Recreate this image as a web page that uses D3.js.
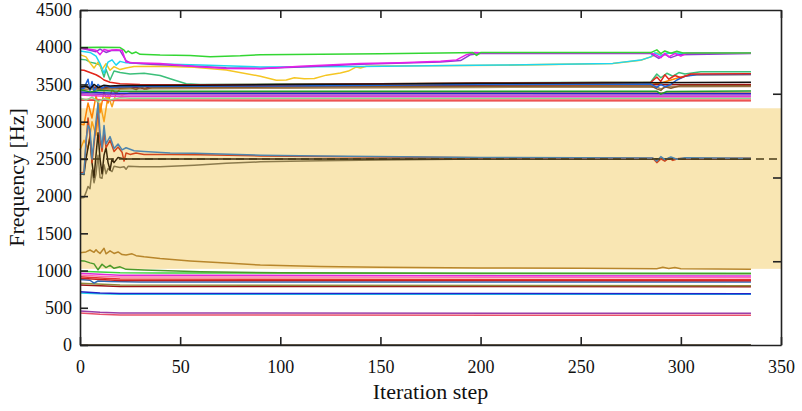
<!DOCTYPE html>
<html>
<head>
<meta charset="utf-8">
<script src="https://cdn.jsdelivr.net/npm/d3@7"></script>
<style>
  html, body { margin: 0; padding: 0; background: #fff; }
  #chart { width: 802px; height: 411px; }
  text { font-family: "Liberation Serif", "Times New Roman", serif; fill: #111; }
</style>
</head>
<body>
<div id="chart"></div>
<script>
/* Frequency tracks over optimisation iterations. Points are [iteration, Hz]. */

var xTicks = [0, 50, 100, 150, 200, 250, 300, 350];
var yTicks = [0, 500, 1000, 1500, 2000, 2500, 3000, 3500, 4000, 4500];
var rightTicks = [1125, 2250, 3375];
var bandRange = [1023, 3180];
var targetHz = 2500;

/* upper group */
var upGreen = [[0,3995],[10,3998],[20,3995],[22,3960],[23,3925],[24,3950],[26,3915],[28,3935],[30,3905],[40,3895],[55,3890],[65,3872],[80,3885],[90,3900],[120,3905],[150,3912],[190,3925],[196,3930],[198,3890],[200,3928],[285,3928],[288,3965],[290,3915],[292,3950],[295,3920],[298,3945],[301,3922],[335,3922]];
var upMagenta = [[0,3985],[4,3975],[8,3960],[10,3900],[12,3970],[14,3955],[18,3965],[21,3960],[23,3800],[26,3790],[40,3780],[57,3740],[73,3715],[90,3712],[110,3745],[140,3780],[160,3792],[180,3810],[188,3830],[193,3900],[197,3930],[200,3925],[285,3925],[288,3890],[290,3860],[292,3920],[294,3870],[297,3915],[300,3880],[303,3920],[335,3920]];
var upPurple = [[0,3990],[5,3960],[8,3940],[10,3975],[13,3930],[16,3960],[20,3955],[23,3820],[25,3790],[35,3770],[57,3745],[73,3725],[90,3715],[110,3735],[140,3770],[180,3800],[190,3820],[195,3900],[200,3915],[285,3915],[289,3850],[292,3905],[295,3860],[299,3900],[335,3915]];
var upCyan = [[0,3950],[5,3930],[8,3880],[10,3780],[12,3650],[14,3800],[16,3830],[18,3760],[20,3810],[23,3790],[30,3780],[45,3770],[60,3760],[90,3735],[140,3740],[210,3760],[266,3783],[280,3827],[285,3870],[287,3925],[290,3890],[293,3920],[335,3920]];
var upYellow = [[0,3900],[3,3870],[5,3790],[7,3720],[9,3800],[11,3700],[13,3780],[15,3690],[17,3740],[20,3700],[23,3720],[27,3740],[40,3745],[57,3730],[73,3695],[90,3610],[98,3555],[103,3560],[107,3590],[112,3575],[117,3580],[123,3625],[130,3655],[134,3680],[138,3735],[140,3722],[143,3745],[150,3748],[210,3758],[266,3781],[280,3824],[286,3880],[288,3925],[291,3895],[294,3920],[335,3918]];
var upTeal = [[0,3840],[3,3830],[5,3800],[8,3780],[10,3760],[12,3600],[13,3700],[15,3560],[17,3680],[20,3660],[25,3640],[32,3650],[40,3620],[47,3560],[53,3510],[60,3500],[100,3505],[150,3510],[200,3520],[285,3532],[288,3640],[290,3590],[293,3650],[296,3610],[299,3660],[302,3640],[310,3670],[335,3672]];
var upRed = [[0,3695],[2,3690],[5,3660],[8,3630],[10,3600],[12,3560],[15,3530],[20,3510],[30,3500],[60,3495],[100,3500],[150,3510],[200,3518],[285,3528],[288,3600],[290,3540],[292,3630],[294,3570],[297,3620],[300,3590],[305,3640],[335,3645]];
var upOrange = [[0,2970],[2,2960],[4,3250],[6,3050],[8,3350],[10,3120],[12,3400],[14,3250],[16,3430],[18,3380],[20,3440],[25,3450],[50,3460],[100,3470],[150,3480],[200,3490],[285,3500],[290,3520],[295,3560],[300,3600],[306,3630],[335,3635]];
var upOrange2 = [[0,2620],[2,2750],[4,2640],[6,3000],[8,2820],[10,3250],[12,3000],[14,3350],[16,3200],[18,3380],[21,3360],[25,3385],[335,3385]];
var upBlue = [[0,3440],[2,3450],[4,3570],[5,3420],[6,3540],[7,3400],[9,3500],[11,3450],[13,3480],[16,3460],[20,3470],[50,3475],[100,3480],[150,3490],[200,3500],[285,3505],[288,3460],[290,3500],[292,3470],[295,3500],[298,3560],[302,3610],[308,3630],[335,3632]];
var upBlack = [[0,3470],[3,3480],[5,3440],[7,3500],[9,3460],[12,3490],[15,3480],[20,3485],[60,3490],[100,3500],[150,3505],[200,3515],[250,3520],[335,3528]];
var upBrown = [[0,3450],[5,3460],[10,3440],[15,3455],[20,3450],[25,3460],[28,3430],[30,3465],[33,3440],[36,3460],[60,3460],[100,3465],[150,3470],[200,3475],[285,3480],[288,3440],[290,3420],[292,3470],[295,3450],[300,3485],[335,3483]];
var upDarkRed = [[0,3460],[5,3470],[10,3455],[20,3470],[30,3460],[32,3440],[35,3470],[60,3475],[100,3480],[200,3490],[335,3500]];
var upKhaki = [[0,3430],[20,3440],[100,3450],[200,3460],[288,3465],[290,3440],[293,3470],[335,3472]];
var upDkGreen = [[0,3430],[5,3400],[10,3420],[20,3410],[288,3410],[290,3370],[293,3405],[335,3411]];
var upNavy = [[0,3400],[10,3390],[20,3382],[335,3380]];
var upViolet = [[0,3375],[20,3360],[335,3357]];
var upPink = [[0,3357],[10,3345],[20,3337],[335,3335]];
var upLime = [[0,3320],[3,3290],[6,3330],[9,3270],[12,3310],[15,3290],[20,3320],[25,3313],[335,3313]];
var upCoral = [[0,3300],[20,3292],[335,3290]];
var upScarlet = [[0,3290],[20,3283],[335,3281]];

/* inside the band */
var bandSteel = [[0,2300],[2,2300],[3,2750],[4,2950],[5,2900],[6,2500],[7,2750],[8,3000],[9,3250],[10,2850],[11,2650],[12,2950],[13,2700],[15,2800],[17,2640],[19,2700],[21,2620],[23,2650],[27,2610],[32,2600],[45,2580],[57,2575],[90,2550],[120,2540],[160,2530],[200,2520],[250,2515],[286,2512],[288,2470],[290,2530],[292,2490],[295,2525],[298,2495],[302,2515],[335,2510]];
var bandRed = [[0,2310],[2,2320],[3,2700],[4,3050],[5,2800],[6,2450],[8,2950],[9,3150],[10,2750],[11,2600],[12,2850],[13,2650],[15,2750],[17,2600],[19,2660],[21,2590],[22,2470],[23,2580],[25,2560],[28,2580],[32,2560],[45,2560],[60,2555],[90,2540],[150,2525],[200,2515],[286,2510],[288,2450],[290,2500],[292,2470],[294,2510],[296,2480],[299,2505],[335,2508]];
var bandDark = [[0,2300],[2,2290],[3,2500],[5,2800],[6,2450],[7,2250],[8,2550],[9,2850],[10,2500],[11,2300],[12,2550],[13,2650],[14,2450],[15,2350],[16,2500],[17,2450],[19,2520],[22,2500],[335,2500]];
var bandKhaki = [[0,1975],[2,1980],[3,2050],[4,2130],[5,2100],[6,2350],[7,2180],[8,2300],[9,2550],[10,2250],[11,2240],[12,2420],[13,2300],[14,2370],[16,2330],[17,2400],[20,2385],[22,2395],[23,2360],[24,2400],[30,2395],[40,2395],[57,2415],[73,2440],[90,2460],[120,2475],[150,2485],[200,2500],[335,2500]];

/* lower group */
var lowGold = [[0,1240],[3,1250],[5,1276],[7,1245],[8,1280],[9,1250],[10,1230],[12,1300],[13,1225],[15,1265],[17,1230],[19,1250],[21,1215],[23,1208],[26,1225],[28,1200],[32,1186],[40,1163],[55,1130],[73,1100],[90,1074],[120,1055],[150,1045],[200,1035],[250,1030],[288,1025],[291,1045],[294,1028],[297,1040],[300,1025],[335,1018]];
var lowGreen = [[0,1132],[2,1130],[5,1103],[7,1090],[9,1010],[11,1085],[13,1040],[15,1070],[17,1030],[20,1050],[23,1016],[32,1007],[40,1000],[60,985],[100,970],[200,962],[335,958]];
var lowLime = [[0,990],[10,980],[20,972],[40,968],[335,963]];
var lowMagenta = [[0,963],[10,950],[20,938],[335,928]];
var lowPink = [[0,940],[10,925],[20,915],[335,905]];
var lowRed = [[0,918],[10,900],[20,885],[335,877]];
var lowRed2 = [[0,895],[10,880],[20,868],[335,864]];
var lowSteel = [[0,880],[5,870],[7,830],[9,860],[15,852],[30,847],[335,846]];
var lowOlive = [[0,830],[20,805],[335,797]];
var lowDarkRed = [[0,806],[20,787],[335,783]];
var lowBlue = [[0,716],[10,700],[20,692],[335,689]];
var lowCyan = [[0,700],[10,688],[20,683],[335,681]];
var lowPurple = [[0,456],[10,440],[20,430],[335,426]];
var lowRose = [[0,430],[10,412],[20,402],[335,399]];
var zeroTrack = [[0,0],[335,0]];

var tracks = [
  upOrange2, upOrange, upKhaki, upDarkRed, upBrown, upBlue, upTeal, upRed, upBlack,
  upScarlet, upCoral, upLime, upPink, upViolet, upNavy, upDkGreen,
  upYellow, upCyan, upPurple, upMagenta, upGreen,
  bandKhaki, bandDark, bandRed, bandSteel,
  lowRose, lowPurple, lowCyan, lowBlue, lowDarkRed, lowOlive, lowSteel, lowRed2, lowRed,
  lowPink, lowMagenta, lowLime, lowGreen, lowGold, zeroTrack
];
var trackColors = [
  "#f7a21b", "#ff8400", "#a8895a", "#9a1010", "#8a5a2b", "#1e63d6", "#3cbf7a", "#e2261c", "#111111",
  "#e02a2a", "#f26060", "#8cd98c", "#e83ad0", "#a236c8", "#2424c8", "#1f9a2a",
  "#f5c623", "#1fd6f0", "#8e3bd1", "#e81ee8", "#33d633",
  "#8c7b4d", "#3b2a0c", "#d2451b", "#4f85ad",
  "#e8506a", "#9a3fa8", "#22d0e8", "#2424c8", "#9c1414", "#8f8a3a", "#2f68b5", "#c81e1e", "#e43232",
  "#ff6fae", "#e028d8", "#3cd43c", "#4c9a2a", "#b8862b", "#3a2a10"
];

function render(el) {
  var d3 = window.d3;
  var width = 802, height = 411;
  var margin = { top: 10, right: 21, bottom: 66, left: 80 };
  var x = d3.scaleLinear().domain([0, 350]).range([margin.left, width - margin.right]);
  var y = d3.scaleLinear().domain([0, 4500]).range([height - margin.bottom, margin.top]);

  var svg = d3.select(el).append("svg")
    .attr("width", width).attr("height", height)
    .attr("viewBox", "0 0 " + width + " " + height);

  /* target band */
  svg.append("rect")
    .attr("x", x(0)).attr("y", y(bandRange[1]))
    .attr("width", x(350) - x(0)).attr("height", y(bandRange[0]) - y(bandRange[1]))
    .attr("fill", "#f9e6b3");

  var line = d3.line()
    .x(function (d) { return x(d[0]); })
    .y(function (d) { return y(d[1]); });

  var g = svg.append("g").attr("fill", "none").attr("stroke-width", 1.5).attr("stroke-linejoin", "round");
  tracks.forEach(function (t, i) {
    g.append("path").attr("d", line(t)).attr("stroke", trackColors[i]);
  });

  /* target frequency */
  svg.append("line")
    .attr("x1", x(0)).attr("x2", x(350))
    .attr("y1", y(targetHz)).attr("y2", y(targetHz))
    .attr("stroke", "#4a3c18").attr("stroke-width", 1.5)
    .attr("stroke-dasharray", "8,5");

  function style(sel) {
    sel.selectAll("path, line").attr("stroke", "#222").attr("stroke-width", 1.6);
    sel.selectAll("text").attr("font-size", 18).attr("fill", "#111")
      .attr("font-family", "'Liberation Serif', 'Times New Roman', serif");
  }

  var fmt = d3.format("d");
  svg.append("g").attr("transform", "translate(0," + y(0) + ")")
    .call(d3.axisBottom(x).tickValues(xTicks).tickFormat(fmt).tickSizeInner(-8).tickSizeOuter(0).tickPadding(15))
    .call(style);
  svg.append("g").attr("transform", "translate(0," + y(4500) + ")")
    .call(d3.axisTop(x).tickValues(xTicks).tickSizeInner(-8).tickSizeOuter(0).tickFormat(""))
    .call(style);
  svg.append("g").attr("transform", "translate(" + x(0) + ",0)")
    .call(d3.axisLeft(y).tickValues(yTicks).tickFormat(fmt).tickSizeInner(-8).tickSizeOuter(0).tickPadding(8))
    .call(style);
  svg.append("g").attr("transform", "translate(" + x(350) + ",0)")
    .call(d3.axisRight(y).tickValues(rightTicks).tickSizeInner(-8).tickSizeOuter(0).tickFormat(""))
    .call(style);

  svg.append("text")
    .attr("x", (x(0) + x(350)) / 2).attr("y", 399)
    .attr("text-anchor", "middle").attr("font-size", 22)
    .text("Iteration step");
  svg.append("text")
    .attr("transform", "translate(24," + ((y(0) + y(4500)) / 2) + ") rotate(-90)")
    .attr("text-anchor", "middle").attr("font-size", 22)
    .text("Frequency [Hz]");
}

render(document.getElementById("chart"));
</script>
</body>
</html>
